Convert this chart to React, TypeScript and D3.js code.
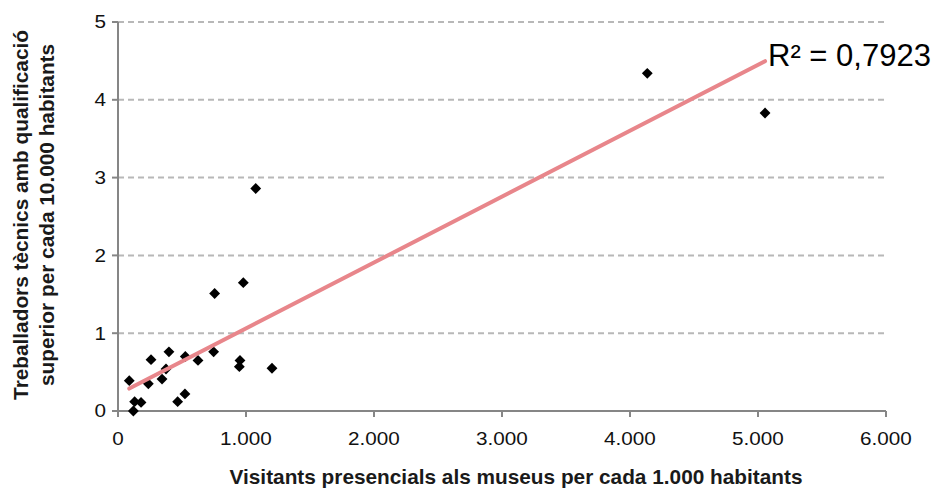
import React from 'react';
import * as d3 from 'd3';

// visitants presencials per 1.000 hab. vs tècnics per 10.000 hab.
const visitants = [88, 120, 130, 180, 237, 258, 344, 375, 398, 466, 523, 526, 625, 747, 755, 948, 953, 979, 1076, 1203, 4135, 5055];
const tecnics = [0.39, 0.0, 0.12, 0.11, 0.35, 0.66, 0.41, 0.54, 0.76, 0.12, 0.22, 0.7, 0.65, 0.76, 1.51, 0.57, 0.65, 1.65, 2.86, 0.55, 4.34, 3.83];
const xTicks = [0, 1000, 2000, 3000, 4000, 5000, 6000];
const yTicks = [0, 1, 2, 3, 4, 5];
const r2Label = 'R² = 0,7923';

const W = 938;
const H = 491;
const M = { left: 118, right: 52, top: 22, bottom: 80 };
const FONT = "'Liberation Sans', Arial, sans-serif";

const fmt = (v: number) => (v === 0 ? '0' : d3.format(',')(v).replace(/,/g, '.'));

export default function App() {
  const x = d3.scaleLinear().domain([0, 6000]).range([M.left, W - M.right]);
  const y = d3.scaleLinear().domain([0, 5]).range([H - M.bottom, M.top]);

  // least squares fit
  const mx = d3.mean(visitants)!;
  const my = d3.mean(tecnics)!;
  let sxy = 0;
  let sxx = 0;
  visitants.forEach((v, i) => {
    sxy += (v - mx) * (tecnics[i] - my);
    sxx += (v - mx) * (v - mx);
  });
  const slope = sxy / sxx;
  const icpt = my - slope * mx;
  const [x0, x1] = d3.extent(visitants) as [number, number];

  const diamond = d3.symbol().type(d3.symbolDiamond2).size(75)();

  return (
    <svg width={W} height={H} style={{ position: 'absolute', left: 0, top: 0, background: '#fff' }}>
      {yTicks.filter(t => t > 0).map(t => (
        <line key={'g' + t} x1={x.range()[0]} x2={x.range()[1]} y1={y(t)} y2={y(t)}
          stroke="#b8b8b8" strokeWidth={2} strokeDasharray="6 4" />
      ))}
      <line x1={x.range()[0]} x2={x.range()[0]} y1={y(5)} y2={y(0)} stroke="#868686" strokeWidth={2} />
      <line x1={x.range()[0] - 6} x2={x.range()[1]} y1={y(0)} y2={y(0)} stroke="#868686" strokeWidth={2} />
      {yTicks.map(t => (
        <g key={'y' + t}>
          <line x1={x.range()[0] - 6} x2={x.range()[0]} y1={y(t)} y2={y(t)} stroke="#868686" strokeWidth={2} />
          <text transform={`translate(${x.range()[0] - 12},${y(t)}) scale(1.15,1)`} dy="0.36em" textAnchor="end"
            fontFamily={FONT} fontSize={18} fill="#111">{t}</text>
        </g>
      ))}
      {xTicks.map(t => (
        <g key={'x' + t}>
          <line x1={x(t)} x2={x(t)} y1={y(0)} y2={y(0) + 6} stroke="#868686" strokeWidth={2} />
          <text transform={`translate(${x(t)},${y(0) + 34}) scale(1.15,1)`} textAnchor="middle"
            fontFamily={FONT} fontSize={18} fill="#111">{fmt(t)}</text>
        </g>
      ))}
      {visitants.map((v, i) => (
        <path key={'p' + i} d={diamond!} transform={`translate(${x(v)},${y(tecnics[i])})`} fill="#000" />
      ))}
      <line x1={x(x0)} y1={y(icpt + slope * x0)} x2={x(x1)} y2={y(icpt + slope * x1)}
        stroke="#e8868b" strokeWidth={4} strokeLinecap="round" />
      <text x={x(x1) + 3} y={66} fontFamily={FONT} fontSize={31} fill="#000">{r2Label}</text>
      <text x={516} y={484} textAnchor="middle" fontFamily={FONT} fontSize={20.8} fontWeight="bold" fill="#1a1a1a">
        Visitants presencials als museus per cada 1.000 habitants
      </text>
      <g transform="translate(0,215) rotate(-90)">
        <text x={0} y={28} textAnchor="middle" fontFamily={FONT} fontSize={20.8} fontWeight="bold" fill="#1a1a1a">
          Treballadors tècnics amb qualificació
        </text>
        <text x={0} y={54} textAnchor="middle" fontFamily={FONT} fontSize={20.8} fontWeight="bold" fill="#1a1a1a">
          superior per cada 10.000 habitants
        </text>
      </g>
    </svg>
  );
}
